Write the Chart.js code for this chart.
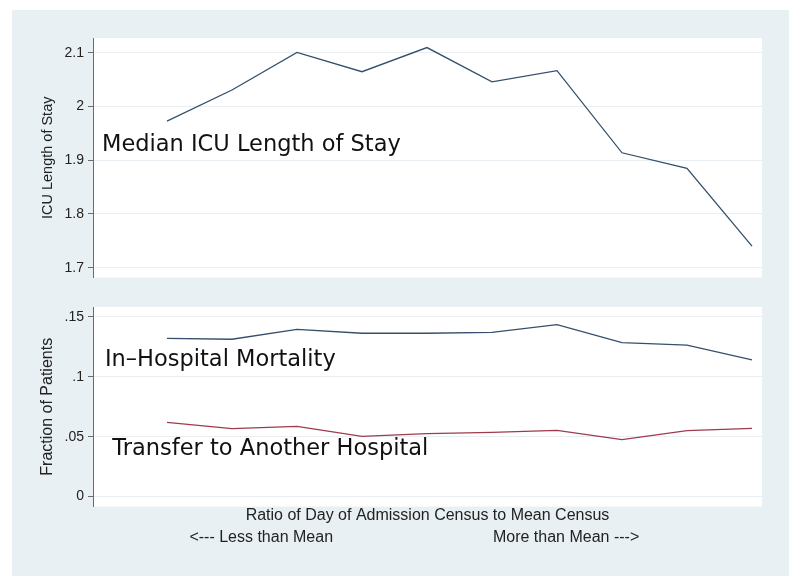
<!DOCTYPE html>
<html>
<head>
<meta charset="utf-8">
<script src="https://cdn.jsdelivr.net/npm/chart.js@4/dist/chart.umd.min.js"></script>
<style>
  body { margin: 0; background: #fff; }
  #frame { position: absolute; left: 12px; top: 10px; width: 777px; height: 566px; background: #e9f0f3; }
  canvas { position: absolute; left: 0; }
  #stay-chart { top: 0; }
  #fraction-chart { top: 290px; }
</style>
</head>
<body>
<div id="frame"></div>
<canvas id="stay-chart" width="800" height="290"></canvas>
<canvas id="fraction-chart" width="800" height="297"></canvas>
<script>
// census ratio groups, low to high
const censusGroups = [1, 2, 3, 4, 5, 6, 7, 8, 9, 10];
const icuStay = [1.973, 2.031, 2.101, 2.065, 2.110, 2.046, 2.067, 1.914, 1.885, 1.740];
const mortality = [0.1322, 0.1314, 0.1397, 0.1364, 0.1364, 0.1372, 0.1436, 0.1286, 0.1264, 0.1142];
const transfer = [0.0619, 0.0567, 0.0586, 0.0503, 0.0525, 0.0536, 0.0553, 0.0475, 0.0550, 0.0569];
const stayTicks = [1.7, 1.8, 1.9, 2.0, 2.1];
const fractionTicks = [0, 0.05, 0.1, 0.15];

const axisFont = '"Liberation Sans", Arial, sans-serif';
const labelFont = '"DejaVu Sans", sans-serif';
const gridColor = '#e8eef2';
const axisColor = '#6b6b6b';

function stataNumber(v) {
    return String(+v.toFixed(2)).replace(/^0\./, '.');
}

function points(values) {
    return censusGroups.map((g, i) => ({ x: g, y: values[i] }));
}

const plotBackground = {
    id: 'plotBackground',
    beforeDraw(chart) {
        const { ctx, chartArea: a } = chart;
        ctx.save();
        ctx.fillStyle = '#ffffff';
        ctx.fillRect(a.left, a.top, a.right - a.left, a.bottom - a.top);
        ctx.restore();
    }
};

// text labels placed in data units
const lineLabels = {
    id: 'lineLabels',
    afterDatasetsDraw(chart, args, opts) {
        const { ctx, scales } = chart;
        ctx.save();
        ctx.font = '22.5px ' + labelFont;
        ctx.fillStyle = '#111';
        ctx.textBaseline = 'alphabetic';
        (opts.items || []).forEach(item => {
            ctx.fillText(item.text, scales.x.getPixelForValue(item.x), scales.y.getPixelForValue(item.y));
        });
        ctx.restore();
    }
};

const xCaption = {
    id: 'xCaption',
    afterDraw(chart) {
        const { ctx, chartArea: a, scales } = chart;
        ctx.save();
        ctx.font = '16px ' + axisFont;
        ctx.fillStyle = '#222';
        ctx.textAlign = 'center';
        ctx.textBaseline = 'middle';
        ctx.fillText('Ratio of Day of Admission Census to Mean Census', (a.left + a.right) / 2, a.bottom + 9.5);
        ctx.fillText('<--- Less than Mean', scales.x.getPixelForValue(2.45), a.bottom + 31);
        ctx.fillText('More than Mean --->', scales.x.getPixelForValue(7.14), a.bottom + 31);
        ctx.restore();
    }
};

function yScale(min, max, tickValues, title, titleSize) {
    return {
        type: 'linear',
        min: min,
        max: max,
        afterFit: s => { s.width = 81; },
        afterBuildTicks: s => { s.ticks = tickValues.map(v => ({ value: v })); },
        ticks: {
            callback: v => stataNumber(v),
            font: { family: axisFont, size: 14 },
            color: '#222',
            padding: 4
        },
        grid: { color: gridColor, tickColor: axisColor, tickLength: 5, lineWidth: 1 },
        border: { display: true, color: axisColor, width: 1 },
        title: {
            display: true,
            text: title,
            font: { family: axisFont, size: titleSize },
            color: '#222',
            padding: { top: 47.6 - 12 - titleSize * 0.6, bottom: 0 }
        }
    };
}

const xScale = { type: 'linear', min: -0.138, max: 10.154, display: false };

new Chart(document.getElementById('stay-chart'), {
    type: 'line',
    data: {
        datasets: [{
            data: points(icuStay),
            borderColor: '#34506b',
            borderWidth: 1.3,
            pointRadius: 0,
            tension: 0
        }]
    },
    options: {
        responsive: false,
        animation: false,
        devicePixelRatio: 1,
        layout: { padding: { left: 12, right: 38, top: 38, bottom: 11 } },
        scales: {
            x: xScale,
            y: yScale(1.6815, 2.1278, stayTicks, 'ICU Length of Stay', 14.5)
        },
        plugins: {
            legend: { display: false },
            tooltip: { enabled: false },
            lineLabels: { items: [{ text: 'Median ICU Length of Stay', x: 0.0, y: 1.9167 }] }
        }
    },
    plugins: [plotBackground, lineLabels]
});

new Chart(document.getElementById('fraction-chart'), {
    type: 'line',
    data: {
        datasets: [{
            label: 'In-Hospital Mortality',
            data: points(mortality),
            borderColor: '#34506b',
            borderWidth: 1.3,
            pointRadius: 0,
            tension: 0
        }, {
            label: 'Transfer to Another Hospital',
            data: points(transfer),
            borderColor: '#9e3b4c',
            borderWidth: 1.2,
            pointRadius: 0,
            tension: 0
        }]
    },
    options: {
        responsive: false,
        animation: false,
        devicePixelRatio: 1,
        layout: { padding: { left: 12, right: 38, top: 17, bottom: 80.5 } },
        scales: {
            x: xScale,
            y: yScale(-0.00833, 0.15833, fractionTicks, 'Fraction of Patients', 16)
        },
        plugins: {
            legend: { display: false },
            tooltip: { enabled: false },
            lineLabels: {
                items: [
                    { text: 'In\u2013Hospital Mortality', x: 0.046, y: 0.1092 },
                    { text: 'Transfer to Another Hospital', x: 0.16, y: 0.035 }
                ]
            }
        }
    },
    plugins: [plotBackground, lineLabels, xCaption]
});
</script>
</body>
</html>
